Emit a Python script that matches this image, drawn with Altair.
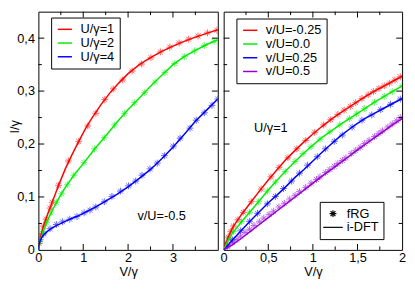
import altair as alt
import pandas as pd

FONT = "Liberation Sans"
RED, GREEN, BLUE, PURPLE = "#ff0000", "#00ee00", "#0000ff", "#9400d3"
AST = "M-0.56,0L0.56,0M0,-0.56L0,0.56M-0.4,-0.4L0.4,0.4M-0.4,0.4L0.4,-0.4"
DASH = "M-1.6,0L1.6,0"
LEG_LINE = "M-1.2,0L1.2,0"

# ---------------- left panel: v/U = -0.5 ----------------
left_series = ["U/γ=1", "U/γ=2", "U/γ=4"]
left_colors = [RED, GREEN, BLUE]

l1_line_V = [0, 0.05, 0.1, 0.2, 0.3, 0.45, 0.6, 0.75, 0.9, 1.05, 1.2, 1.4, 1.6, 1.8, 2.0, 2.25, 2.5, 2.75, 3.0, 3.25, 3.5, 3.75, 4.0]
l1_line_I = [0, 0.024, 0.042, 0.066, 0.088, 0.122, 0.153, 0.180, 0.205, 0.229, 0.250, 0.275, 0.297, 0.316, 0.333, 0.350, 0.363, 0.375, 0.385, 0.394, 0.402, 0.409, 0.416]
l1_pts_V = [0.02, 0.06, 0.11, 0.17, 0.26, 0.31, 0.45, 0.67, 0.9, 1.1, 1.28, 1.48, 1.67, 1.88, 2.09, 2.3, 2.51, 2.72, 2.93, 3.14, 3.35, 3.56, 3.77, 3.98]
l1_pts_I = [0.012, 0.028, 0.045, 0.058, 0.079, 0.090, 0.122, 0.168, 0.205, 0.234, 0.258, 0.284, 0.304, 0.321, 0.338, 0.351, 0.363, 0.374, 0.383, 0.391, 0.398, 0.404, 0.410, 0.415]

l2_line_V = [0, 0.05, 0.1, 0.2, 0.3, 0.45, 0.6, 0.8, 1.0, 1.25, 1.5, 1.75, 2.0, 2.25, 2.5, 2.75, 3.0, 3.25, 3.5, 3.75, 4.0]
l2_line_I = [0, 0.020, 0.034, 0.055, 0.073, 0.097, 0.118, 0.142, 0.163, 0.190, 0.215, 0.241, 0.265, 0.287, 0.309, 0.330, 0.350, 0.365, 0.377, 0.388, 0.397]
l2_pts_V = [0.03, 0.1, 0.18, 0.28, 0.4, 0.52, 0.645, 0.79, 1.02, 1.25, 1.47, 1.7, 1.92, 2.14, 2.37, 2.6, 2.82, 3.04, 3.26, 3.48, 3.7, 3.92]
l2_pts_I = [0.016, 0.035, 0.052, 0.070, 0.090, 0.106, 0.123, 0.141, 0.165, 0.191, 0.212, 0.236, 0.258, 0.278, 0.297, 0.317, 0.335, 0.352, 0.365, 0.376, 0.386, 0.394]

l4_line_V = [0, 0.01, 0.03, 0.06, 0.1, 0.2, 0.3, 0.4, 0.55, 0.7, 0.85, 1.0, 1.25, 1.5, 1.75, 2.0, 2.25, 2.5, 2.75, 3.0, 3.25, 3.5, 3.75, 4.0]
l4_line_I = [0, 0.008, 0.015, 0.021, 0.027, 0.035, 0.041, 0.046, 0.052, 0.058, 0.063, 0.069, 0.080, 0.092, 0.105, 0.119, 0.135, 0.152, 0.172, 0.194, 0.218, 0.243, 0.264, 0.285]
l4_pts_V = [0.04, 0.12, 0.26, 0.4, 0.54, 0.7, 0.86, 1.02, 1.15, 1.28, 1.47, 1.64, 1.83, 2.01, 2.17, 2.31, 2.49, 2.65, 2.81, 3.01, 3.16, 3.38, 3.52, 3.7, 3.87, 4.0]
l4_pts_I = [0.019, 0.030, 0.040, 0.048, 0.053, 0.058, 0.063, 0.070, 0.075, 0.081, 0.091, 0.101, 0.111, 0.121, 0.130, 0.141, 0.153, 0.164, 0.178, 0.196, 0.211, 0.230, 0.245, 0.259, 0.273, 0.285]

# ---------------- right panel: U/γ = 1 ----------------
right_series = ["v/U=-0.25", "v/U=0.0", "v/U=0.25", "v/U=0.5"]
right_colors = [RED, GREEN, BLUE, PURPLE]

r_line_V = [0, 0.05, 0.1, 0.2, 0.3, 0.4, 0.5, 0.6, 0.7, 0.8, 0.9, 1.0, 1.1, 1.2, 1.3, 1.4, 1.5, 1.6, 1.7, 1.8, 1.9, 2.0]
rm25_line_I = [0, 0.024, 0.042, 0.067, 0.089, 0.111, 0.132, 0.152, 0.171, 0.188, 0.204, 0.219, 0.233, 0.246, 0.258, 0.269, 0.280, 0.291, 0.301, 0.310, 0.319, 0.328]
r00_line_I = [0, 0.018, 0.032, 0.053, 0.073, 0.093, 0.113, 0.132, 0.150, 0.167, 0.183, 0.198, 0.212, 0.224, 0.236, 0.247, 0.258, 0.269, 0.280, 0.290, 0.300, 0.310]
r25_line_I = [0, 0.009, 0.019, 0.037, 0.055, 0.072, 0.089, 0.104, 0.120, 0.137, 0.152, 0.168, 0.184, 0.199, 0.214, 0.227, 0.239, 0.250, 0.259, 0.268, 0.277, 0.286]
r50_line_I = [0, 0.005, 0.010, 0.022, 0.035, 0.048, 0.061, 0.074, 0.087, 0.100, 0.113, 0.126, 0.139, 0.151, 0.164, 0.176, 0.189, 0.201, 0.213, 0.225, 0.237, 0.248]

rm25_pts_V = [0.02, 0.05, 0.08, 0.11, 0.16, 0.22, 0.31, 0.42, 0.53, 0.62, 0.72, 0.82, 0.92, 1.02, 1.12, 1.2, 1.28, 1.35, 1.42, 1.48, 1.55, 1.62, 1.68, 1.74, 1.8, 1.86, 1.92, 1.98]
rm25_pts_I = [0.011, 0.024, 0.035, 0.045, 0.057, 0.071, 0.091, 0.115, 0.138, 0.156, 0.174, 0.191, 0.207, 0.222, 0.236, 0.246, 0.256, 0.264, 0.271, 0.278, 0.286, 0.293, 0.299, 0.305, 0.310, 0.315, 0.321, 0.327]
r00_pts_V = [0.06, 0.11, 0.2, 0.29, 0.39, 0.49, 0.58, 0.69, 0.8, 0.89, 0.98, 1.08, 1.19, 1.3, 1.41, 1.49, 1.58, 1.69, 1.8, 1.89, 2.0]
r00_pts_I = [0.021, 0.035, 0.053, 0.071, 0.091, 0.111, 0.128, 0.148, 0.167, 0.182, 0.195, 0.209, 0.223, 0.236, 0.248, 0.257, 0.267, 0.279, 0.290, 0.299, 0.310]
r25_pts_V = [0.04, 0.1, 0.19, 0.29, 0.38, 0.49, 0.58, 0.67, 0.76, 0.85, 0.94, 1.05, 1.14, 1.24, 1.33, 1.44, 1.55, 1.66, 1.76, 1.87, 1.98]
r25_pts_I = [0.007, 0.019, 0.036, 0.054, 0.069, 0.087, 0.101, 0.116, 0.130, 0.145, 0.160, 0.176, 0.191, 0.205, 0.217, 0.232, 0.245, 0.255, 0.265, 0.275, 0.285]
r50_pts_V = [0.05, 0.1, 0.15, 0.19, 0.24, 0.29, 0.34, 0.4, 0.45, 0.51, 0.56, 0.62, 0.68, 0.74, 0.8, 0.85, 0.92, 0.98, 1.04, 1.08, 1.14, 1.19, 1.24, 1.28, 1.33, 1.37, 1.43, 1.48, 1.53, 1.58, 1.63, 1.69, 1.74, 1.78, 1.84, 1.89, 1.94, 1.98]
r50_pts_I = [0.008, 0.014, 0.020, 0.026, 0.033, 0.039, 0.046, 0.053, 0.060, 0.067, 0.073, 0.081, 0.088, 0.096, 0.103, 0.110, 0.118, 0.126, 0.133, 0.138, 0.146, 0.152, 0.158, 0.163, 0.169, 0.174, 0.182, 0.188, 0.194, 0.201, 0.207, 0.214, 0.220, 0.225, 0.232, 0.238, 0.244, 0.250]

# ---------------- texts & ticks ----------------
x_title = "V/γ"
y_title = "I/γ"
left_note = ["v/U=-0.5"]
right_note = ["U/γ=1"]
method_domain = ["fRG", "i-DFT"]

left_x_labels = [0, 1, 2, 3]
left_x_major = [1, 2, 3]
left_x_minor = [0.5, 1.5, 2.5, 3.5]
right_x_labels = [0, 0.5, 1, 1.5, 2]
right_x_major = [0.5, 1, 1.5]
right_x_minor = [0.25, 0.75, 1.25, 1.75]
y_labels = [0, 0.1, 0.2, 0.3, 0.4]
y_major = [0.1, 0.2, 0.3, 0.4]
y_minor = [0.05, 0.15, 0.25, 0.35]

W_L, W_R, H = 183, 182, 243
MAJ, MIN = 6, 3.5


def frame(pairs):
    rows = []
    for name, vs, is_ in pairs:
        for v, i in zip(vs, is_):
            rows.append({"V": v, "I": i, "series": name, "method": "fRG"})
    return pd.DataFrame(rows)


left_lines = frame([(left_series[0], l1_line_V, l1_line_I), (left_series[1], l2_line_V, l2_line_I), (left_series[2], l4_line_V, l4_line_I)])
left_pts = frame([(left_series[0], l1_pts_V, l1_pts_I), (left_series[1], l2_pts_V, l2_pts_I), (left_series[2], l4_pts_V, l4_pts_I)])
right_lines = frame([(right_series[0], r_line_V, rm25_line_I), (right_series[1], r_line_V, r00_line_I),
                     (right_series[2], r_line_V, r25_line_I), (right_series[3], r_line_V, r50_line_I)])
right_pts = frame([(right_series[0], rm25_pts_V, rm25_pts_I), (right_series[1], r00_pts_V, r00_pts_I),
                   (right_series[2], r25_pts_V, r25_pts_I), (right_series[3], r50_pts_V, r50_pts_I)])

ys = alt.Scale(domain=[0, 0.45], nice=False, zero=False)
xs_l = alt.Scale(domain=[0, 4], nice=False)
xs_r = alt.Scale(domain=[0, 2], nice=False)

comma = "replace(datum.label, '.', ',')"
x_axis_l = alt.Axis(values=left_x_labels, format="d", title=x_title, labelFlush=False, labelPadding=2, titlePadding=1)
x_axis_r = alt.Axis(values=right_x_labels, format=".1~f", labelExpr=comma, title=x_title, labelFlush=False, labelPadding=2, titlePadding=1)
y_axis_l = alt.Axis(values=y_labels, format=".1~f", labelExpr=comma, title=y_title, labelPadding=4, titleX=-17, titleY=117)


def ticks(xmaj, xmin, xs, xax, yax, w):
    layers = []
    for vals, L in ((xmaj, MAJ), (xmin, MIN)):
        d = pd.DataFrame({"V": vals})
        layers.append(alt.Chart(d).mark_rule(color="black", strokeWidth=1).encode(
            x=alt.X("V:Q", scale=xs, axis=xax), y=alt.value(H), y2=alt.value(H - L)))
        layers.append(alt.Chart(d).mark_rule(color="black", strokeWidth=1).encode(
            x=alt.X("V:Q", scale=xs, axis=xax), y=alt.value(0), y2=alt.value(L)))
    for vals, L in ((y_major, MAJ), (y_minor, MIN)):
        d = pd.DataFrame({"I": vals})
        layers.append(alt.Chart(d).mark_rule(color="black", strokeWidth=1).encode(
            y=alt.Y("I:Q", scale=ys, axis=yax), x=alt.value(0), x2=alt.value(L)))
        layers.append(alt.Chart(d).mark_rule(color="black", strokeWidth=1).encode(
            y=alt.Y("I:Q", scale=ys, axis=yax), x=alt.value(w), x2=alt.value(w - L)))
    return layers


leg_common = dict(title=None, orient="none", labelFont=FONT, labelFontSize=13, labelColor="black",
                  strokeColor="black", fillColor="white", padding=5, symbolOpacity=1, rowPadding=0)
leg_left = alt.Legend(legendX=13, legendY=6, symbolType=LEG_LINE, symbolSize=144, symbolStrokeWidth=1.5,
                      symbolOffset=2, labelOffset=9, **leg_common)
leg_right = alt.Legend(legendX=13, legendY=7, symbolType=LEG_LINE, symbolSize=144, symbolStrokeWidth=1.5,
                       symbolOffset=2, labelOffset=9, **leg_common)
leg_method = alt.Legend(legendX=98, legendY=194, symbolSize=156, symbolStrokeColor="black", symbolStrokeWidth=1.2,
                        symbolFillColor="transparent", symbolOffset=1.5, labelOffset=7, **leg_common)

col_l = alt.Color("series:N", scale=alt.Scale(domain=left_series, range=left_colors), legend=leg_left)
col_r = alt.Color("series:N", scale=alt.Scale(domain=right_series, range=right_colors), legend=leg_right)

left = alt.layer(
    alt.Chart(left_pts).mark_point(filled=False, size=156, strokeWidth=1, opacity=0.6, clip=True).encode(
        x=alt.X("V:Q", scale=xs_l, axis=x_axis_l), y=alt.Y("I:Q", scale=ys, axis=y_axis_l),
        color=col_l, shape=alt.value(AST)),
    alt.Chart(left_lines).mark_line(strokeWidth=1.5, clip=True).encode(
        x=alt.X("V:Q", scale=xs_l, axis=x_axis_l), y=alt.Y("I:Q", scale=ys, axis=y_axis_l),
        color=col_l, order="V:Q"),
    *ticks(left_x_major, left_x_minor, xs_l, x_axis_l, y_axis_l, W_L),
    alt.Chart(pd.DataFrame({"t": left_note})).mark_text(align="left", baseline="middle", font=FONT, fontSize=13, color="black").encode(
        x=alt.value(101), y=alt.value(209), text="t:N"),
).properties(width=W_L, height=H)

right = alt.layer(
    alt.Chart(right_pts).mark_point(filled=False, size=156, strokeWidth=1, opacity=0.6, clip=True).encode(
        x=alt.X("V:Q", scale=xs_r, axis=x_axis_r), y=alt.Y("I:Q", scale=ys, axis=None),
        color=col_r,
        shape=alt.Shape("method:N", scale=alt.Scale(domain=method_domain, range=[AST, DASH]), legend=leg_method)),
    alt.Chart(right_lines).mark_line(strokeWidth=1.5, clip=True).encode(
        x=alt.X("V:Q", scale=xs_r, axis=x_axis_r), y=alt.Y("I:Q", scale=ys, axis=None),
        color=col_r, order="V:Q"),
    *ticks(right_x_major, right_x_minor, xs_r, x_axis_r, None, W_R),
    alt.Chart(pd.DataFrame({"t": right_note})).mark_text(align="left", baseline="middle", font=FONT, fontSize=13, color="black").encode(
        x=alt.value(31), y=alt.value(119), text="t:N"),
).properties(width=W_R, height=H)

chart = alt.hconcat(left, right, spacing=0).resolve_scale(
    color="independent", x="independent", y="independent", shape="independent"
).resolve_legend(color="independent", shape="independent").configure_view(
    stroke="black", strokeWidth=1
).configure_axis(
    grid=False, ticks=False, domain=False, labelFont=FONT, labelFontSize=13, labelColor="black",
    titleFont=FONT, titleFontSize=13, titleColor="black", titleFontWeight="normal"
).properties(padding=0, background="white")

chart.save("out.html", embed_options={"renderer": "svg", "actions": False})
